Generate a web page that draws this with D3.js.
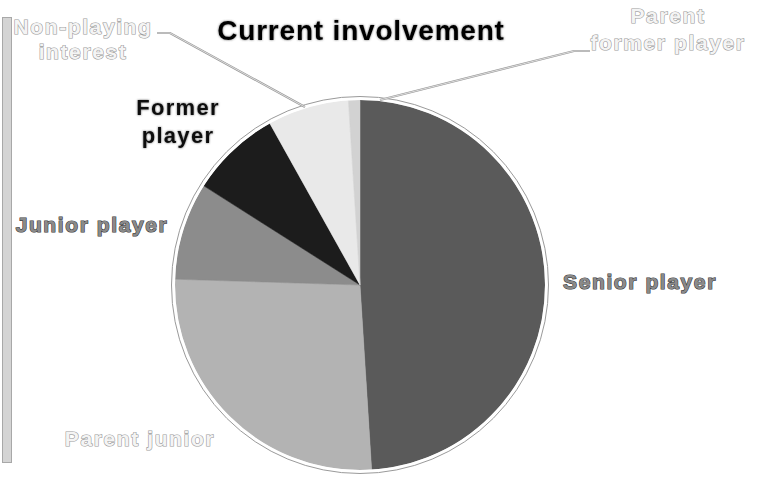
<!DOCTYPE html>
<html>
<head>
<meta charset="utf-8">
<script src="https://cdn.jsdelivr.net/npm/d3@7"></script>
<style>
  html, body { margin: 0; padding: 0; background: #fff; }
  svg { display: block; font-family: "Liberation Sans", Arial, sans-serif; }
</style>
</head>
<body>
<svg id="chart" width="761" height="480"></svg>
<script>
// Share of respondents by current involvement (percent)
const categories = ["Senior player", "Parent junior", "Junior player", "Former player", "Non-playing interest", "Parent former player"];
const values = [49.0, 26.5, 8.5, 7.9, 7.1, 1.0];
const sliceColors = ["#5a5a5a", "#b3b3b3", "#8c8c8c", "#1c1c1c", "#e9e9e9", "#d2d2d2"];

const title = "Current involvement";

// Label layout: text lines, anchor point, line gap, style, and optional leader line
const labelLayout = [
  { lines: ["Senior player"], x: 640, y: 289, gap: 0, style: "mid" },
  { lines: ["Parent junior"], x: 140, y: 446, gap: 0, style: "light" },
  { lines: ["Junior player"], x: 92, y: 232, gap: 0, style: "mid" },
  { lines: ["Former", "player"], x: 178, y: 115, gap: 28, style: "dark" },
  { lines: ["Non-playing", "interest"], x: 83, y: 34, gap: 25, style: "light",
    leader: [[157, 33], [170, 33], [305, 107]] },
  { lines: ["Parent", "former player"], x: 668, y: 23, gap: 27, style: "light",
    leader: [[590, 51], [574, 51], [380, 100]] }
];

const svg = d3.select("#chart");
const cx = 360, cy = 285, r = 185;

const defs = svg.append("defs");
const glow = defs.append("filter").attr("id", "glow")
  .attr("x", "-10%").attr("y", "-20%").attr("width", "120%").attr("height", "140%");
glow.append("feGaussianBlur").attr("in", "SourceAlpha").attr("stdDeviation", 1.2).attr("result", "b");
glow.append("feFlood").attr("flood-color", "#444").attr("flood-opacity", 0.8);
glow.append("feComposite").attr("in2", "b").attr("operator", "in").attr("result", "s");
const gm = glow.append("feMerge");
gm.append("feMergeNode").attr("in", "s");
gm.append("feMergeNode").attr("in", "SourceGraphic");

// Left side bar
svg.append("rect")
  .attr("x", 2.5).attr("y", 17.5).attr("width", 9).attr("height", 445)
  .attr("fill", "#d4d4d4").attr("stroke", "#a8a8a8").attr("stroke-width", 1);

// Pie
const pie = d3.pie().sort(null).value(d => d)(values);
const arc = d3.arc().innerRadius(0).outerRadius(r);

const g = svg.append("g").attr("transform", `translate(${cx},${cy})`);
g.selectAll("path.slice")
  .data(pie)
  .join("path")
  .attr("class", "slice")
  .attr("d", arc)
  .attr("fill", (d, i) => sliceColors[i])
  .attr("stroke", (d, i) => sliceColors[i])
  .attr("stroke-width", 0.5);

// Rim
g.append("circle").attr("r", r + 1.5).attr("fill", "none").attr("stroke", "#fff").attr("stroke-width", 3);
g.append("circle").attr("r", r + 3.5).attr("fill", "none").attr("stroke", "#9a9a9a").attr("stroke-width", 1);

// Title
svg.append("text")
  .attr("x", 361).attr("y", 40)
  .attr("text-anchor", "middle")
  .attr("font-size", 28).attr("font-weight", "bold")
  .attr("letter-spacing", 0.8)
  .attr("fill", "#000")
  .attr("filter", "url(#glow)")
  .text(title);

// Leader lines
const line = d3.line();
labelLayout.filter(d => d.leader).forEach(d => {
  svg.append("path")
    .attr("d", line(d.leader))
    .attr("fill", "none")
    .attr("stroke", "#9a9a9a")
    .attr("stroke-width", 2.2);
  svg.append("path")
    .attr("d", line(d.leader))
    .attr("fill", "none")
    .attr("stroke", "#e4e4e4")
    .attr("stroke-width", 0.9);
});

// Slice labels
const styles = {
  dark:  { fill: "#111", stroke: "none", sw: 0, filter: "url(#glow)", size: 22, ls: 1.3 },
  mid:   { fill: "#8a8a8a", stroke: "#3a3a3a", sw: 1.2, filter: null, size: 21, ls: 1.6 },
  light: { fill: "#f4f4f4", stroke: "#9a9a9a", sw: 1.2, filter: null, size: 21, ls: 1.6 }
};
labelLayout.forEach(d => {
  const st = styles[d.style];
  const t = svg.append("text")
    .attr("text-anchor", "middle")
    .attr("font-size", st.size).attr("font-weight", "bold")
    .attr("fill", st.fill)
    .attr("stroke", st.stroke)
    .attr("stroke-width", st.sw)
    .attr("paint-order", "stroke")
    .attr("letter-spacing", st.ls);
  if (st.filter) t.attr("filter", st.filter);
  d.lines.forEach((ln, i) => {
    t.append("tspan").attr("x", d.x).attr("y", d.y + i * d.gap).text(ln);
  });
});
</script>
</body>
</html>
